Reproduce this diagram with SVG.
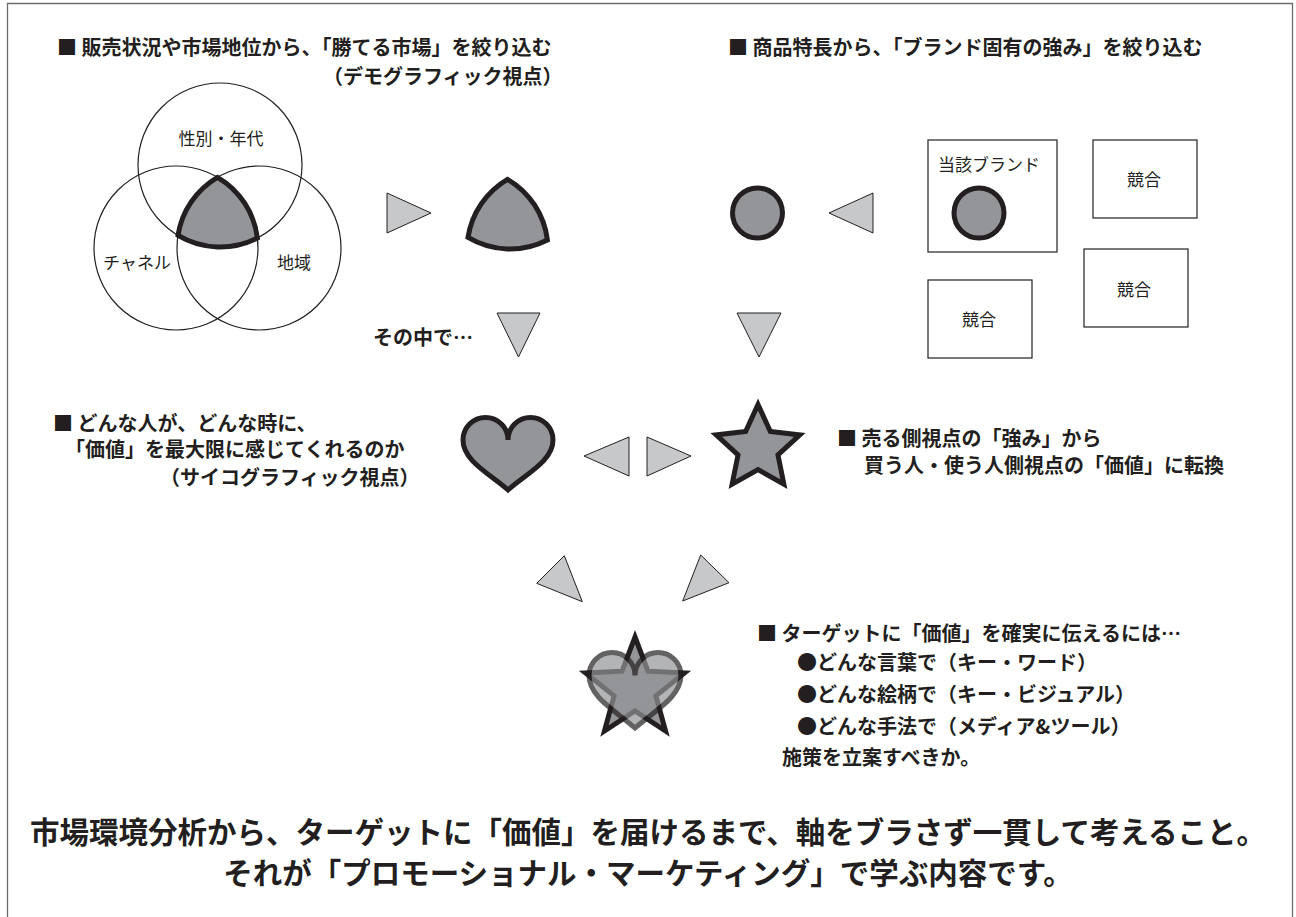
<svg xmlns="http://www.w3.org/2000/svg" xmlns:xlink="http://www.w3.org/1999/xlink" width="1296" height="917" viewBox="0 0 1296 917">
<style>
.b{font-family:"Noto Sans CJK JP","Noto Sans CJK SC",sans-serif;font-weight:700;fill:#231f20;font-size:20px}
.r{font-family:"Noto Sans CJK JP","Noto Sans CJK SC",sans-serif;font-weight:400;fill:#231f20;font-size:17px}
.big{font-family:"Noto Sans CJK JP","Noto Sans CJK SC",sans-serif;font-weight:700;fill:#231f20;font-size:29.5px}
.ring{fill:none;stroke:#231f20;stroke-width:1.2}
.shape{fill:#939598;stroke:#231f20;stroke-width:5}
.arrow{fill:#c7c8ca;stroke:#231f20;stroke-width:1}
.box{fill:#fff;stroke:#231f20;stroke-width:1.2}
</style>
<defs>
<path id="tri" d="M217.5 177.3 A82 82 0 0 1 257.4 238 A82 82 0 0 1 178 235.4 A82 82 0 0 1 217.5 177.3 Z"/>
</defs>
<rect width="1296" height="917" fill="#fff"/>
<path d="M7.5 920 V3.5 H1292.5 V920" fill="none" stroke="#6d6e71" stroke-width="1.3"/>

<g id="title-left">
<text class="b" x="57" y="55">■ 販売状況や市場地位から、「勝てる市場」を絞り込む</text>
<text class="b" x="323" y="84">（デモグラフィック視点）</text>
</g>
<g id="title-right">
<text class="b" x="728" y="55">■ 商品特長から、「ブランド固有の強み」を絞り込む</text>
</g>

<g id="venn">
<circle class="ring" cx="220" cy="165" r="82"/>
<circle class="ring" cx="176" cy="248" r="82"/>
<circle class="ring" cx="259" cy="248" r="82"/>
<use xlink:href="#tri" class="shape"/>
<text class="r" x="221" y="145" text-anchor="middle">性別・年代</text>
<text class="r" x="137" y="269" text-anchor="middle">チャネル</text>
<text class="r" x="294" y="269" text-anchor="middle">地域</text>
</g>

<g id="target-market">
<use xlink:href="#tri" class="shape" transform="translate(290 2)"/>
</g>

<g id="brand-strength">
<circle class="shape" cx="757.5" cy="213" r="25"/>
</g>

<g id="competition">
<rect class="box" x="928" y="140" width="129" height="112"/>
<text class="r" x="989" y="171" text-anchor="middle">当該ブランド</text>
<circle class="shape" cx="979" cy="213" r="25"/>
<rect class="box" x="1093" y="140" width="104" height="78"/>
<text class="r" x="1144" y="186" text-anchor="middle">競合</text>
<rect class="box" x="1084" y="249" width="104" height="78"/>
<text class="r" x="1134" y="296" text-anchor="middle">競合</text>
<rect class="box" x="928" y="280" width="104" height="78"/>
<text class="r" x="979" y="326" text-anchor="middle">競合</text>
</g>

<g id="label-sonoNaka">
<text class="b" x="373" y="345">その中で…</text>
</g>

<g id="heart">
<path class="shape" d="M508 440 A22.5 22.5 0 0 0 463 440 C463 461 490 474 508 490 C526 474 553 461 553 440 A22.5 22.5 0 0 0 508 440 Z"/>
</g>

<g id="star">
<path class="shape" stroke-width="6" d="M758 404.5 L770.34 431.51 L799.85 434.9 L777.97 454.99 L783.86 484.1 L758 469.5 L732.14 484.1 L738.03 454.99 L716.15 434.9 L745.66 431.51 Z"/>
</g>

<g id="text-psychographic">
<text class="b" x="53" y="431">■ どんな人が、どんな時に、</text>
<text class="b" x="65" y="457">「価値」を最大限に感じてくれるのか</text>
<text class="b" x="160" y="485">（サイコグラフィック視点）</text>
</g>

<g id="text-conversion">
<text class="b" x="837" y="446">■ 売る側視点の「強み」から</text>
<text class="b" x="864" y="473">買う人・使う人側視点の「価値」に転換</text>
</g>

<g id="star-heart">
<path class="shape" stroke-width="6" d="M635 637 L647.93 671.2 L684.46 672.93 L655.92 695.8 L665.57 731.07 L635 711 L604.43 731.07 L614.08 695.8 L585.54 672.93 L622.07 671.2 Z"/>
<path class="shape" opacity="0.7" d="M635 675.5 A23 23 0 0 0 589 675.5 C589 697 616 711 635 728 C654 711 681 697 681 675.5 A23 23 0 0 0 635 675.5 Z"/>
</g>

<g id="text-target">
<text class="b" x="757" y="641">■ ターゲットに「価値」を確実に伝えるには…</text>
<text class="b" x="797" y="670">●どんな言葉で（キー・ワード）</text>
<text class="b" x="797" y="702">●どんな絵柄で（キー・ビジュアル）</text>
<text class="b" x="797" y="734">●どんな手法で（メディア&amp;ツール）</text>
<text class="b" x="782" y="765">施策を立案すべきか。</text>
</g>

<g id="conclusion">
<text class="big" x="648" y="843" text-anchor="middle">市場環境分析から、ターゲットに「価値」を届けるまで、軸をブラさず一貫して考えること。</text>
<text class="big" x="648" y="884" text-anchor="middle">それが「プロモーショナル・マーケティング」で学ぶ内容です。</text>
</g>

<g id="connectors">
<polygon class="arrow" points="387,193 387,233 431,213"/>
<polygon class="arrow" points="873,193 873,233 829,213"/>
<polygon class="arrow" points="497,313 540,313 518.5,357"/>
<polygon class="arrow" points="737,313 781,313 759,357"/>
<polygon class="arrow" points="629,437 629,476 584,456"/>
<polygon class="arrow" points="647,437 647,476 691,456"/>
<polygon class="arrow" points="564.3,555.7 536.7,583.3 582.3,601.7"/>
<polygon class="arrow" points="700.7,555 729,582.7 682.7,601"/>
</g>
</svg>
